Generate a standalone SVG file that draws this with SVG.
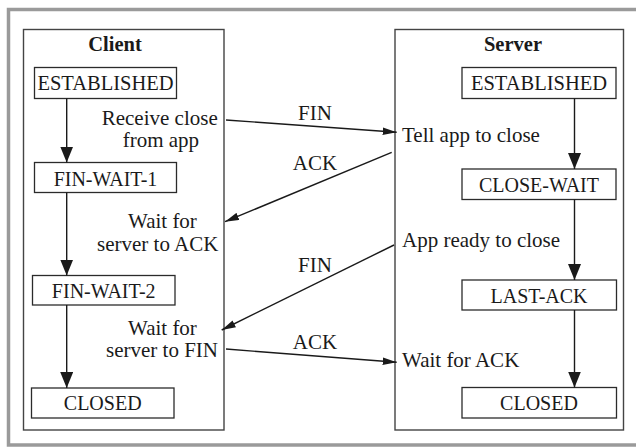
<svg xmlns="http://www.w3.org/2000/svg" width="636" height="448" viewBox="0 0 636 448" font-family="Liberation Serif">
<style>
  .frame{fill:none;stroke:#9a9a9a;stroke-width:3.5}
  .box{fill:#fff;stroke:#2b2b2b;stroke-width:1.3}
  .cont{fill:#fff;stroke:#444;stroke-width:1.4}
  .cn{stroke:#1a1a1a;stroke-width:1.4;fill:none}
</style>
<defs>
  <marker id="big" markerUnits="userSpaceOnUse" markerWidth="16" markerHeight="13" refX="16" refY="6.5" orient="auto">
    <path d="M0,0 L16,6.5 L0,13 z" fill="#1a1a1a"/>
  </marker>
  <marker id="sm" markerUnits="userSpaceOnUse" markerWidth="14" markerHeight="8" refX="14" refY="4" orient="auto">
    <path d="M0,0.2 L14,4 L0,7.8 z" fill="#1a1a1a"/>
  </marker>
</defs>
<rect class="frame" x="8.5" y="9.5" width="640" height="435.5"/>
<g id="client">
  <rect class="cont" x="23.5" y="29.5" width="200.5" height="400.5"/>
  <text font-family="Liberation Serif" font-size="20.5" font-weight="bold" fill="#1a1a1a" text-anchor="middle" x="115" y="50.5">Client</text>
</g>
<g id="server">
  <rect class="cont" x="395" y="29.5" width="228.5" height="400.5"/>
  <text font-family="Liberation Serif" font-size="20.5" font-weight="bold" fill="#1a1a1a" text-anchor="middle" x="513" y="50.5">Server</text>
</g>
<g id="c-established">
  <rect class="box" x="34.5" y="67.5" width="142" height="31"/>
  <text font-family="Liberation Serif" font-size="20.5" fill="#1a1a1a" text-anchor="middle" x="105.5" y="90">ESTABLISHED</text>
</g>
<g id="c-finwait1">
  <rect class="box" x="34.5" y="162.5" width="142" height="30"/>
  <text font-family="Liberation Serif" font-size="20" fill="#1a1a1a" text-anchor="middle" x="105.5" y="185.5">FIN-WAIT-1</text>
</g>
<g id="c-finwait2">
  <rect class="box" x="32.5" y="275.5" width="142.5" height="29.5"/>
  <text font-family="Liberation Serif" font-size="20" fill="#1a1a1a" text-anchor="middle" x="103.7" y="298">FIN-WAIT-2</text>
</g>
<g id="c-closed">
  <rect class="box" x="31.5" y="388" width="142.5" height="30"/>
  <text font-family="Liberation Serif" font-size="20" fill="#1a1a1a" text-anchor="middle" x="102.7" y="410">CLOSED</text>
</g>
<g id="s-established">
  <rect class="box" x="462" y="67.5" width="154" height="31"/>
  <text font-family="Liberation Serif" font-size="20.5" fill="#1a1a1a" text-anchor="middle" x="539" y="90">ESTABLISHED</text>
</g>
<g id="s-closewait">
  <rect class="box" x="462" y="169" width="154" height="30.5"/>
  <text font-family="Liberation Serif" font-size="20" fill="#1a1a1a" text-anchor="middle" x="539" y="192">CLOSE-WAIT</text>
</g>
<g id="s-lastack">
  <rect class="box" x="462" y="280" width="154.5" height="30"/>
  <text font-family="Liberation Serif" font-size="20" fill="#1a1a1a" text-anchor="middle" x="539" y="302.5">LAST-ACK</text>
</g>
<g id="s-closed">
  <rect class="box" x="462" y="387.5" width="154.5" height="30.5"/>
  <text font-family="Liberation Serif" font-size="20" fill="#1a1a1a" text-anchor="middle" x="539" y="410">CLOSED</text>
</g>
<g id="labels">
  <text font-family="Liberation Serif" font-size="21" fill="#1a1a1a" x="101.7" y="125">Receive close</text>
  <text font-family="Liberation Serif" font-size="21" fill="#1a1a1a" x="122.7" y="146.7">from app</text>
  <text font-family="Liberation Serif" font-size="21" fill="#1a1a1a" x="128" y="228">Wait for</text>
  <text font-family="Liberation Serif" font-size="21" fill="#1a1a1a" x="97" y="251">server to ACK</text>
  <text font-family="Liberation Serif" font-size="21" fill="#1a1a1a" x="128" y="335">Wait for</text>
  <text font-family="Liberation Serif" font-size="21" fill="#1a1a1a" x="106" y="357">server to FIN</text>
  <text font-family="Liberation Serif" font-size="21" fill="#1a1a1a" x="402" y="141.7">Tell app to close</text>
  <text font-family="Liberation Serif" font-size="21" fill="#1a1a1a" x="402" y="246.7">App ready to close</text>
  <text font-family="Liberation Serif" font-size="21" fill="#1a1a1a" x="402" y="366.7">Wait for ACK</text>
</g>
<g id="connectors">
  <line class="cn" x1="66.7" y1="98.5" x2="66.7" y2="162.5" marker-end="url(#big)"/>
  <line class="cn" x1="66.7" y1="192.5" x2="66.7" y2="275.5" marker-end="url(#big)"/>
  <line class="cn" x1="66.7" y1="305" x2="66.7" y2="388" marker-end="url(#big)"/>
  <line class="cn" x1="574.5" y1="98.5" x2="574.5" y2="169" marker-end="url(#big)"/>
  <line class="cn" x1="574.5" y1="199.5" x2="574.5" y2="280" marker-end="url(#big)"/>
  <line class="cn" x1="574.5" y1="310" x2="574.5" y2="387.5" marker-end="url(#big)"/>
  <line class="cn" x1="226" y1="120" x2="396.7" y2="132.3" marker-end="url(#sm)"/>
  <line class="cn" x1="391.7" y1="152.3" x2="225" y2="221.7" marker-end="url(#sm)"/>
  <line class="cn" x1="394" y1="245" x2="221.7" y2="330" marker-end="url(#sm)"/>
  <line class="cn" x1="226" y1="349" x2="396.7" y2="362.3" marker-end="url(#sm)"/>
  <text font-family="Liberation Serif" font-size="21" fill="#1a1a1a" text-anchor="middle" x="315" y="120">FIN</text>
  <text font-family="Liberation Serif" font-size="21" fill="#1a1a1a" text-anchor="middle" x="315" y="170">ACK</text>
  <text font-family="Liberation Serif" font-size="21" fill="#1a1a1a" text-anchor="middle" x="315" y="271.5">FIN</text>
  <text font-family="Liberation Serif" font-size="21" fill="#1a1a1a" text-anchor="middle" x="315" y="349">ACK</text>
</g>
</svg>
